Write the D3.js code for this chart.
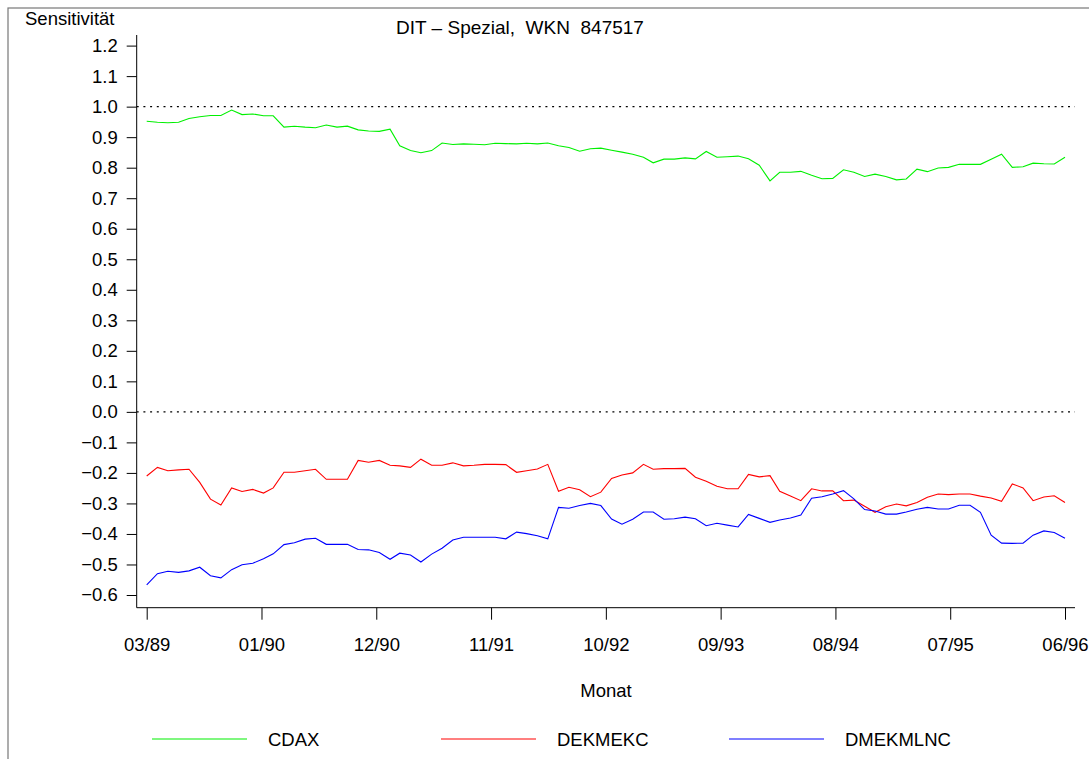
<!DOCTYPE html>
<html lang="de">
<head>
    <meta charset="UTF-8">
    <script src="https://cdn.jsdelivr.net/npm/d3@7/dist/d3.min.js"></script>
    <title>DIT - Spezial</title>
    <style>
        body { margin: 0; background: #fff; }
        text { font-family: "Liberation Sans", Arial, sans-serif; fill: #000; }
        .axis path, .axis line { stroke: #000; }
    </style>
</head>
<body>
    <svg width="1089" height="759"></svg>
    <script>
        // monthly values 03/89 .. 06/96
        var cdax = [
            0.952, 0.949, 0.947, 0.949, 0.961, 0.967, 0.971, 0.971, 0.989, 0.974,
            0.976, 0.970, 0.970, 0.933, 0.936, 0.933, 0.931, 0.940, 0.933, 0.936,
            0.924, 0.920, 0.919, 0.926, 0.872, 0.856, 0.849, 0.856, 0.881, 0.876,
            0.878, 0.877, 0.875, 0.880, 0.879, 0.878, 0.880, 0.878, 0.881, 0.872,
            0.866, 0.854, 0.862, 0.864, 0.857, 0.851, 0.844, 0.834, 0.816, 0.828,
            0.828, 0.832, 0.829, 0.853, 0.834, 0.836, 0.838, 0.829, 0.808, 0.757,
            0.785, 0.785, 0.788, 0.775, 0.764, 0.765, 0.793, 0.785, 0.771, 0.779,
            0.771, 0.760, 0.763, 0.795, 0.787, 0.799, 0.801, 0.811, 0.811, 0.811,
            0.828, 0.844, 0.801, 0.803, 0.815, 0.813, 0.812, 0.834
        ];
        var dekmekc = [
            -0.210, -0.182, -0.193, -0.190, -0.188, -0.231, -0.286, -0.305, -0.249, -0.261,
            -0.254, -0.266, -0.249, -0.198, -0.198, -0.193, -0.188, -0.221, -0.221, -0.221,
            -0.159, -0.165, -0.159, -0.175, -0.177, -0.182, -0.155, -0.175, -0.175, -0.167,
            -0.177, -0.175, -0.172, -0.172, -0.173, -0.198, -0.193, -0.187, -0.172, -0.260,
            -0.247, -0.255, -0.278, -0.263, -0.218, -0.207, -0.200, -0.172, -0.188, -0.186,
            -0.186, -0.185, -0.214, -0.227, -0.244, -0.252, -0.252, -0.205, -0.213, -0.209,
            -0.260, -0.276, -0.291, -0.252, -0.259, -0.259, -0.291, -0.289, -0.309, -0.329,
            -0.311, -0.302, -0.308, -0.297, -0.280, -0.269, -0.271, -0.269, -0.269, -0.276,
            -0.282, -0.293, -0.236, -0.249, -0.291, -0.279, -0.275, -0.297
        ];
        var dmekmlnc = [
            -0.567, -0.530, -0.522, -0.526, -0.521, -0.509, -0.537, -0.544, -0.517, -0.501,
            -0.496, -0.481, -0.465, -0.435, -0.429, -0.417, -0.414, -0.434, -0.434, -0.434,
            -0.451, -0.452, -0.461, -0.483, -0.463, -0.469, -0.492, -0.466, -0.447, -0.420,
            -0.411, -0.411, -0.411, -0.411, -0.416, -0.394, -0.399, -0.406, -0.416, -0.313,
            -0.316, -0.307, -0.300, -0.307, -0.351, -0.368, -0.352, -0.328, -0.328, -0.352,
            -0.350, -0.345, -0.350, -0.373, -0.365, -0.371, -0.377, -0.336, -0.349, -0.362,
            -0.354, -0.348, -0.338, -0.283, -0.278, -0.269, -0.258, -0.285, -0.320, -0.325,
            -0.335, -0.335, -0.328, -0.319, -0.313, -0.318, -0.318, -0.306, -0.306, -0.329,
            -0.404, -0.430, -0.431, -0.430, -0.404, -0.390, -0.395, -0.414
        ];

        var seriesNames = ["CDAX", "DEKMEKC", "DMEKMLNC"];
        var seriesColors = ["#00f000", "#ff0000", "#0000ff"];
        var yTicks = [-0.6, -0.5, -0.4, -0.3, -0.2, -0.1, 0.0, 0.1, 0.2, 0.3, 0.4, 0.5, 0.6, 0.7, 0.8, 0.9, 1.0, 1.1, 1.2];
        var xTickLabels = ["03/89", "01/90", "12/90", "11/91", "10/92", "09/93", "08/94", "07/95", "06/96"];
        var refLines = [1.0, 0.0];

        var startDate = new Date(1989, 2, 1),
            endDate = new Date(1996, 5, 1);
        var months = d3.timeMonth.range(startDate, d3.timeMonth.offset(endDate, 1));

        var svg = d3.select("svg");

        // outer frame
        svg.append("rect")
           .attr("x", 8).attr("y", 8)
           .attr("width", 1100).attr("height", 800)
           .attr("fill", "none")
           .attr("stroke", "#777")
           .attr("stroke-width", 1.2);

        var x = d3.scaleTime()
                  .domain([startDate, endDate])
                  .range([146.7, 1065]);

        var y = d3.scaleLinear()
                  .domain([-0.6, 1.2])
                  .range([595, 45.6]);

        var axisLeftX = 136.7, axisBottomY = 607.7;

        // ticks evenly spread over the time range
        var xTickValues = xTickLabels.map(function(d, i) {
            return x.invert(146.7 + i * (1065 - 146.7) / (xTickLabels.length - 1));
        });

        var yAxis = svg.append("g")
                       .attr("class", "axis")
                       .attr("transform", "translate(" + axisLeftX + ",0)")
                       .call(d3.axisLeft(y)
                               .tickValues(yTicks)
                               .tickSize(10)
                               .tickSizeOuter(0)
                               .tickPadding(9)
                               .tickFormat(d3.format(".1f")));
        yAxis.select(".domain").remove();
        yAxis.selectAll("text").style("font-size", "18.5px");

        var xAxis = svg.append("g")
                       .attr("class", "axis")
                       .attr("transform", "translate(0," + axisBottomY + ")")
                       .call(d3.axisBottom(x)
                               .tickValues(xTickValues)
                               .tickSize(12)
                               .tickSizeOuter(0)
                               .tickPadding(18)
                               .tickFormat(function(d, i) { return xTickLabels[i]; }));
        xAxis.select(".domain").remove();
        xAxis.selectAll("text").style("font-size", "18.5px");

        // axis lines
        svg.append("line")
           .attr("x1", axisLeftX).attr("x2", axisLeftX)
           .attr("y1", 35).attr("y2", axisBottomY)
           .attr("stroke", "#000");
        svg.append("line")
           .attr("x1", axisLeftX).attr("x2", 1075)
           .attr("y1", axisBottomY).attr("y2", axisBottomY)
           .attr("stroke", "#000");

        // dotted reference lines
        svg.selectAll(".ref")
           .data(refLines)
           .enter().append("line")
           .attr("class", "ref")
           .attr("x1", axisLeftX).attr("x2", 1075)
           .attr("y1", function(d) { return y(d); })
           .attr("y2", function(d) { return y(d); })
           .attr("stroke", "#000")
           .attr("stroke-width", 1.2)
           .attr("stroke-dasharray", "2,4.7");

        var line = d3.line()
                     .x(function(d, i) { return x(months[i]); })
                     .y(function(d) { return y(d); });

        svg.selectAll(".series")
           .data([cdax, dekmekc, dmekmlnc])
           .enter().append("path")
           .attr("class", "series")
           .attr("fill", "none")
           .attr("stroke", function(d, i) { return seriesColors[i]; })
           .attr("stroke-width", 1.1)
           .attr("d", line);

        // titles
        svg.append("text")
           .attr("x", 25).attr("y", 25)
           .style("font-size", "18.5px")
           .text("Sensitivität");

        svg.append("text")
           .attr("x", 520).attr("y", 34)
           .style("text-anchor", "middle")
           .style("font-size", "19px")
           .style("white-space", "pre")
           .text("DIT \u2013 Spezial,  WKN  847517");

        svg.append("text")
           .attr("x", 606).attr("y", 697)
           .style("text-anchor", "middle")
           .style("font-size", "18.5px")
           .text("Monat");

        // legend
        var legendX = [152, 441, 729];
        var legend = svg.selectAll(".legend")
                        .data(seriesNames)
                        .enter().append("g")
                        .attr("class", "legend")
                        .attr("transform", function(d, i) { return "translate(" + legendX[i] + ",739)"; });
        legend.append("line")
              .attr("x1", 0).attr("x2", 95)
              .attr("stroke", function(d, i) { return seriesColors[i]; })
              .attr("stroke-width", 1.1);
        legend.append("text")
              .attr("x", 116).attr("y", 7)
              .style("font-size", "18.5px")
              .text(function(d) { return d; });
    </script>
</body>
</html>
